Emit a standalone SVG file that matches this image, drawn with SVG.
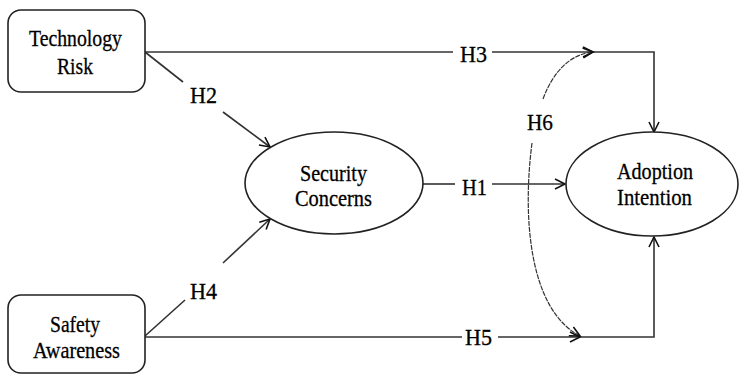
<svg xmlns="http://www.w3.org/2000/svg" width="739" height="377" viewBox="0 0 739 377">
<defs>
<style>
.box{fill:#fff;stroke:#222;stroke-width:1.6}
.t{font-family:"Liberation Serif","Times New Roman",serif;font-size:24px;fill:#000;stroke:#000;stroke-width:0.3;text-anchor:middle}
.ln{fill:none;stroke:#333;stroke-width:1.6}
.dash{fill:none;stroke:#333;stroke-width:1.2;stroke-dasharray:5 1}
</style>
<marker id="arr" markerUnits="userSpaceOnUse" markerWidth="14" markerHeight="14" refX="11" refY="6" orient="auto">
<path d="M1,1 L11,6 L1,11" fill="none" stroke="#111" stroke-width="1.6"/>
</marker>
</defs>
<rect width="739" height="377" fill="#fff"/>
<g id="connectors">
<path class="ln" d="M145,52 L453,52"/>
<path class="ln" d="M492,52 L593,52" marker-end="url(#arr)"/>
<path class="ln" d="M593,52 L654,52 L654,132" marker-end="url(#arr)"/>
<path class="ln" d="M423,184 L455,184"/>
<path class="ln" d="M492,184 L565,184" marker-end="url(#arr)"/>
<path class="ln" d="M145,52 L183,82"/>
<path class="ln" d="M223,112 L270,147" marker-end="url(#arr)"/>
<path class="ln" d="M145,336 L185,300"/>
<path class="ln" d="M223,263 L270,219" marker-end="url(#arr)"/>
<path class="ln" d="M145,337 L462,337"/>
<path class="ln" d="M498,337 L580,337" marker-end="url(#arr)"/>
<path class="ln" d="M580,337 L654,337 L654,237" marker-end="url(#arr)"/>
<path class="dash" d="M543,99 C553,72 570,54 593,52" marker-end="url(#arr)"/>
<path class="dash" d="M532,143 C522,220 530,310 580,336" marker-end="url(#arr)"/>
<text class="t" x="473.5" y="62" textLength="27" lengthAdjust="spacingAndGlyphs">H3</text>
<text class="t" x="474.5" y="195" textLength="25" lengthAdjust="spacingAndGlyphs">H1</text>
<text class="t" x="203.5" y="103" textLength="27" lengthAdjust="spacingAndGlyphs">H2</text>
<text class="t" x="203.5" y="299" textLength="27" lengthAdjust="spacingAndGlyphs">H4</text>
<text class="t" x="478.5" y="345" textLength="27" lengthAdjust="spacingAndGlyphs">H5</text>
<text class="t" x="540" y="130" textLength="26" lengthAdjust="spacingAndGlyphs">H6</text>
</g>
<g id="technology-risk">
<rect class="box" x="8" y="10" width="137" height="82" rx="13"/>
<text class="t" x="75.5" y="46" textLength="93" lengthAdjust="spacingAndGlyphs">Technology</text>
<text class="t" x="75" y="74" textLength="36" lengthAdjust="spacingAndGlyphs">Risk</text>
</g>
<g id="safety-awareness">
<rect class="box" x="8" y="295" width="137" height="78" rx="13"/>
<text class="t" x="75" y="332" textLength="50" lengthAdjust="spacingAndGlyphs">Safety</text>
<text class="t" x="76.5" y="358" textLength="87" lengthAdjust="spacingAndGlyphs">Awareness</text>
</g>
<g id="security-concerns">
<ellipse class="box" cx="334" cy="183" rx="89" ry="51"/>
<text class="t" x="333.5" y="181" textLength="67" lengthAdjust="spacingAndGlyphs">Security</text>
<text class="t" x="333.5" y="206" textLength="77" lengthAdjust="spacingAndGlyphs">Concerns</text>
</g>
<g id="adoption-intention">
<ellipse class="box" cx="652" cy="184" rx="86" ry="52"/>
<text class="t" x="655" y="179" textLength="76" lengthAdjust="spacingAndGlyphs">Adoption</text>
<text class="t" x="654.5" y="205" textLength="75" lengthAdjust="spacingAndGlyphs">Intention</text>
</g>
</svg>
